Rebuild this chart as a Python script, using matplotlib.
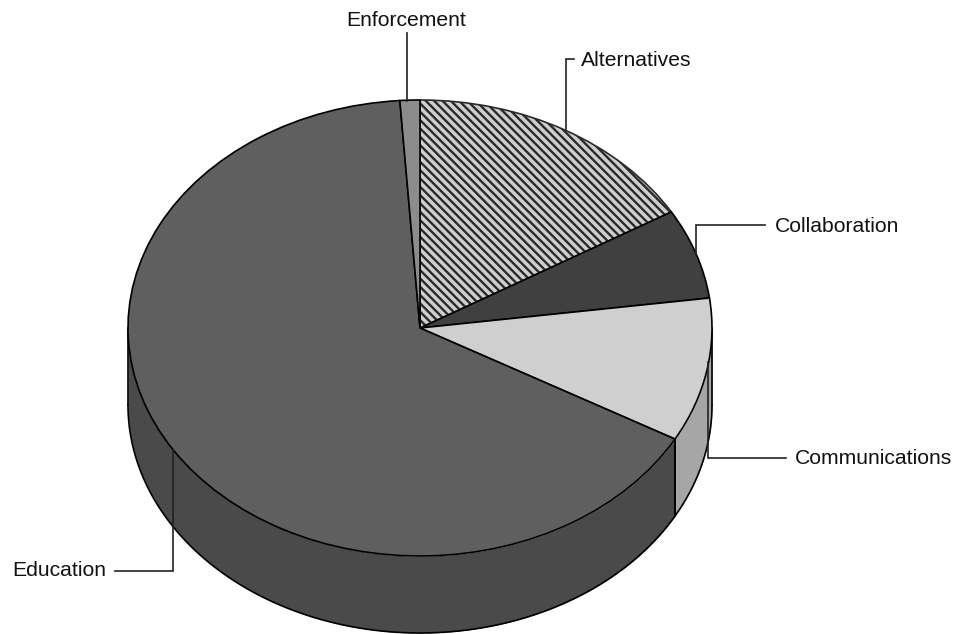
import numpy as np
import matplotlib
matplotlib.use('Agg')
import matplotlib.pyplot as plt

plt.rcParams['font.family'] = ['Liberation Sans', 'DejaVu Sans']
plt.rcParams['hatch.linewidth'] = 1.7

# values (percent, clockwise from the top)
categorias = ['Alternatives', 'Collaboration', 'Communications', 'Education', 'Enforcement']
valores = [16.5, 6.4, 10.2, 65.8, 1.1]
cores = ['#cfcfcf', '#404040', '#cfcfcf', '#5f5f5f', '#8c8c8c']
cores_lado = ['#8a8a8a', '#2e2e2e', '#a6a6a6', '#4a4a4a', '#666666']

# geometry of the picture in pixels
W, H = 961, 634
cx, cy = 420, 328
rx, ry = 292, 228
altura = 77 / ry


def px(x, y):
    # pixel of the picture -> data units of the pie
    return (x - cx) / rx, (cy - y) / ry


fig = plt.figure(figsize=(W / 100, H / 100), dpi=100)
ax = fig.add_axes([0, 0, 1, 1])

# side wall, only the front half of the disc is visible
fim = np.cumsum(valores) * 3.6
ini = fim - np.array(valores) * 3.6
for a, b, cor in zip(ini, fim, cores_lado):
    a2, b2 = max(a, 90), min(b, 270)
    if a2 >= b2:
        continue
    t = np.radians(np.linspace(a2, b2, 200))
    x = np.sin(t)
    y = np.cos(t)
    ax.fill_between(x, y, y - altura, color=cor, zorder=1, lw=0)
    ax.plot(x, y - altura, color='black', lw=1.2, zorder=2)
    for tt in (t[0], t[-1]):
        ax.plot([np.sin(tt)] * 2, [np.cos(tt), np.cos(tt) - altura], color='black', lw=1.2, zorder=2)

fatias, _ = ax.pie(valores, colors=cores, startangle=90, counterclock=False, radius=1,
                   wedgeprops={'edgecolor': 'black', 'linewidth': 1.2, 'zorder': 3})
fatias[0].set_hatch('\\\\\\\\')
fatias[0].set_edgecolor('#2a2a2a')

ax.set_box_aspect(None)
ax.set_aspect('auto')
ax.set_xlim(-cx / rx, (W - cx) / rx)
ax.set_ylim((cy - H) / ry, cy / ry)
ax.axis('off')

# leader lines and labels
guias = {
    'Enforcement': [(407, 33), (407, 101)],
    'Alternatives': [(574, 59), (566, 59), (566, 129)],
    'Collaboration': [(765, 225), (696, 225), (696, 255)],
    'Communications': [(786, 458), (708, 458), (708, 362)],
    'Education': [(115, 571), (173, 571), (173, 450)],
}
textos = {
    'Enforcement': (346, 21),
    'Alternatives': (581, 60),
    'Collaboration': (775, 226),
    'Communications': (795, 458),
    'Education': (12, 570),
}
for nome in categorias:
    xs, ys = zip(*[px(p, q) for p, q in guias[nome]])
    ax.plot(xs, ys, color='#222222', lw=1.2, zorder=5, solid_joinstyle='miter')
    tx, ty = px(*textos[nome])
    ax.text(tx, ty, nome, fontsize=15.2, color='#111111', ha='left', va='center', zorder=6)

fig.savefig('out.png', dpi=100)
